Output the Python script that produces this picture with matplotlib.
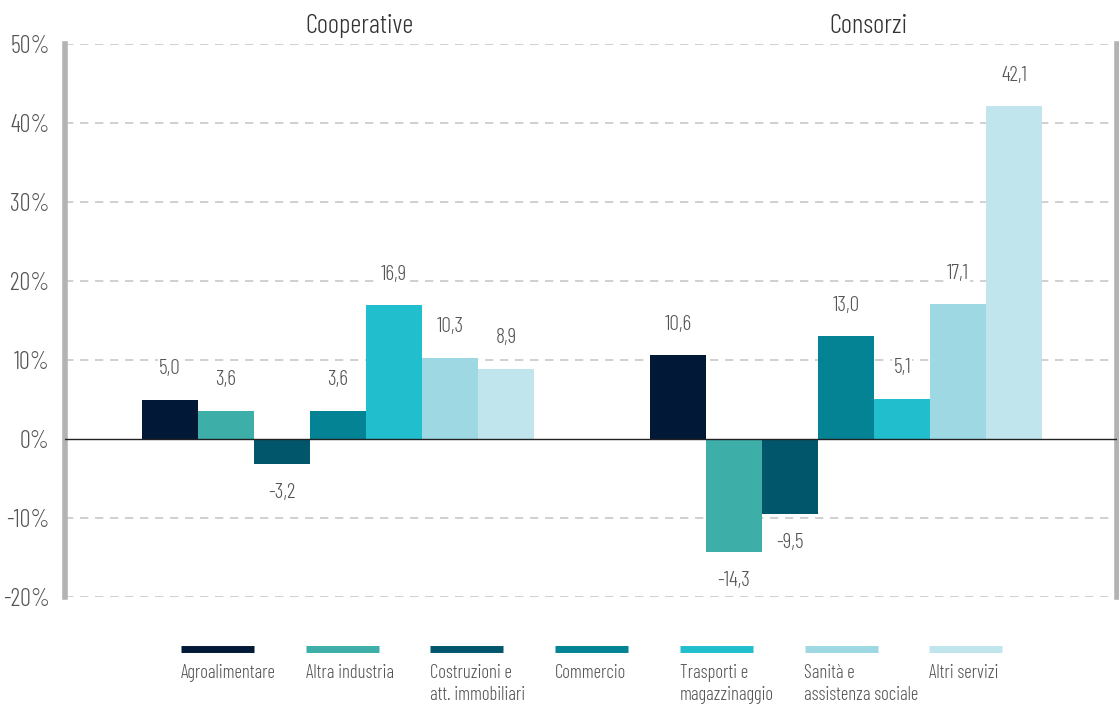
import matplotlib.pyplot as plt
from matplotlib.lines import Line2D
import numpy as np

groups = ["Cooperative", "Consorzi"]
sectors = ["Agroalimentare", "Altra industria", "Costruzioni e\natt. immobiliari",
           "Commercio", "Trasporti e\nmagazzinaggio", "Sanità e\nassistenza sociale",
           "Altri servizi"]
cooperative = [5.0, 3.6, -3.2, 3.6, 16.9, 10.3, 8.9]
consorzi = [10.6, -14.3, -9.5, 13.0, 5.1, 17.1, 42.1]
colors = ["#011936", "#3daea8", "#02566b", "#038393", "#21bfcd", "#9dd8e3", "#c0e5ec"]
yticks = [-20, -10, 0, 10, 20, 30, 40, 50]

plt.rcParams['font.family'] = ['Barlow Condensed', 'Roboto Condensed', 'DejaVu Sans']
plt.rcParams['font.weight'] = 300
text_col = "#555555"

fig = plt.figure(figsize=(11.19, 7.09), dpi=100)
ax = fig.add_axes([65 / 1119, 112 / 709, 1052 / 1119, 553 / 709])

width = 56 / 508
values = np.array([cooperative, consorzi])
for i, (name, col) in enumerate(zip(sectors, colors)):
    x = np.arange(len(groups)) + (i - 3) * width
    vals = values[:, i]
    ax.bar(x, vals, width=width, color=col, zorder=3)
    for xi, v in zip(x, vals):
        lbl = f"{v:.1f}".replace(".", ",")
        if v >= 0:
            ax.text(xi, v + 3.2, lbl, ha="center", va="baseline", fontsize=15.5,
                    color=text_col, zorder=5,
                    bbox=dict(facecolor="white", edgecolor="none", pad=1))
        else:
            ax.text(xi, v - 2.4, lbl, ha="center", va="top", fontsize=15.5,
                    color=text_col, zorder=5,
                    bbox=dict(facecolor="white", edgecolor="none", pad=1))

ax.set_xlim(-0.537, 1.533)
ax.set_ylim(-20, 50)
ax.set_yticks(yticks)
ax.set_yticklabels([f"{t}%" for t in yticks], fontsize=17.5, color=text_col)
ax.tick_params(axis="y", length=0, pad=11)
ax.set_xticks([])
for t in yticks:
    if t != 0:
        ax.axhline(t, color="#c8c8c8", lw=1.2, ls=(0, (5, 4)), zorder=1)
ax.axhline(0, color="#222222", lw=1, zorder=4)
for s in ["top", "bottom"]:
    ax.spines[s].set_visible(False)
for s in ["left", "right"]:
    ax.spines[s].set_color("#b3b3b3")
    ax.spines[s].set_linewidth(4)

for i, g in enumerate(groups):
    ax.text(i + 0.043, 50.8, g, ha="center", va="bottom", fontsize=19.5, color="#333333")

# legend below
for i, (name, col) in enumerate(zip(sectors, colors)):
    x0 = (181 + i * 124.7) / 1119
    fig.add_artist(Line2D([x0, x0 + 73 / 1119], [1 - 649 / 709] * 2, color=col, lw=5,
                          solid_capstyle="butt"))
    fig.text(x0, 1 - 664 / 709, name, ha="left", va="top", fontsize=13.5,
             color=text_col, linespacing=1.25)

fig.savefig("out.png", dpi=100)
